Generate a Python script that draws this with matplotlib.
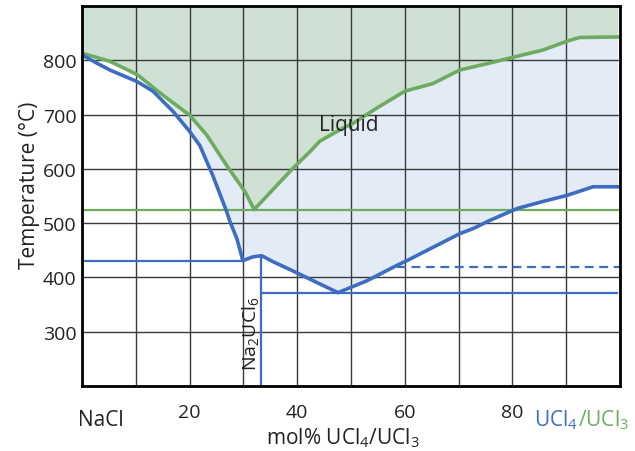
import matplotlib
matplotlib.use('Agg')
import matplotlib.pyplot as plt
import numpy as np

plt.rcParams['font.family'] = ['Open Sans', 'DejaVu Sans']
plt.rcParams['mathtext.fontset'] = 'custom'
plt.rcParams['mathtext.rm'] = 'Open Sans'
plt.rcParams['mathtext.it'] = 'Open Sans:italic'
plt.rcParams['mathtext.bf'] = 'Open Sans:bold'

# liquidus, UCl3 system (green)
green_x = [0, 5.2, 10.2, 15, 20, 23.2, 26.9, 30.3, 32, 39.2, 42.4, 44.2, 48.5, 50.4,
           54.8, 60, 65.2, 70.2, 75.8, 79.5, 85.7, 90.1, 92.5, 99.6]
green_T = [813, 798, 774, 736, 699, 662, 606, 558, 525, 601, 632, 651, 675, 684,
           712, 743, 757, 782, 795, 804, 819, 835, 842, 843]

# liquidus, UCl4 system (blue)
blue_x = [0, 2.7, 5.2, 10.2, 13.2, 16.9, 20, 21.9, 24.3, 26.9, 27.5, 28.8, 29.9,
          31.8, 33.4, 35.5, 39.2, 44.2, 47.6, 53, 58.5, 60.4, 70.3, 72.7, 75.8,
          80.9, 85.7, 90.1, 95, 99.6]
blue_T = [810, 795, 782, 761, 743, 706, 669, 643, 588, 521, 503, 471, 431,
          438, 440, 429, 412, 388, 372, 394, 422, 431, 481, 490, 505,
          527, 540, 551, 567, 567]

eutectic_green = 525
eutectic_blue1 = 430
eutectic_blue2 = 372
transition_blue = 419
compound_x = 33.3
compound_T = 440

GREEN = '#6dab5e'
GREEN_FILL = '#cfe0d4'
BLUE = '#3d6dc2'
BLUE_FILL = '#e3ebf6'

fig = plt.figure(figsize=(6.35, 4.52), dpi=100)
ax = fig.add_axes([82 / 635, 1 - 387 / 452, 538 / 635, 380 / 452])

gx = np.array(green_x)
gT = np.array(green_T)
bx = np.array(blue_x)
bT = np.array(blue_T)

# fills
ax.fill_between(gx, gT, 900, color=GREEN_FILL, lw=0, zorder=1)
gm = gx >= 15
bm = bx >= 16
ax.fill(np.concatenate([bx[bm], gx[gm][::-1]]),
        np.concatenate([bT[bm], gT[gm][::-1]]),
        color=BLUE_FILL, lw=0, zorder=1)

ax.grid(True, color='#3a3a3a', lw=1.0, zorder=2)
ax.set_axisbelow(False)

# horizontal invariants
ax.plot([0, 100], [eutectic_green] * 2, color=GREEN, lw=1.6, zorder=3)
ax.plot([0, 29.9], [eutectic_blue1] * 2, color=BLUE, lw=1.6, zorder=3)
ax.plot([compound_x, 99.5], [eutectic_blue2] * 2, color=BLUE, lw=1.6, zorder=3)
ax.plot([58.5, 100], [transition_blue] * 2, color=BLUE, lw=1.6, ls=(0, (4, 2.5)), zorder=3)
ax.plot([compound_x, compound_x], [200, compound_T], color=BLUE, lw=1.6, zorder=3)

# liquidus curves
ax.plot(gx, gT, color=GREEN, lw=2.6, zorder=4)
ax.plot(bx, bT, color=BLUE, lw=2.6, zorder=4)

ax.set_xlim(0, 100)
ax.set_ylim(200, 900)
ax.set_xticks(np.arange(0, 101, 10))
ax.set_xticklabels(['', '', '20', '', '40', '', '60', '', '80', '', ''])
ax.set_yticks(np.arange(200, 901, 100))
ax.set_yticklabels(['', '300', '400', '500', '600', '700', '800', ''])
ax.tick_params(length=0, labelsize=14, colors='#222222')
ax.tick_params(axis='x', pad=12)
ax.tick_params(axis='y', pad=4)
for side in ['left', 'bottom', 'right', 'top']:
    ax.spines[side].set_linewidth(2.0)
    ax.spines[side].set_color('black')
    ax.spines[side].set_zorder(5)

ax.text(49.6, 682, 'Liquid', fontsize=15, ha='center', va='center', color='#222222', zorder=6)
ax.text(31.3, 298, 'Na$_2$UCl$_6$', fontsize=14, rotation=90, ha='center', va='center',
        color='#222222', zorder=6)

fig.text(30 / 635, 1 - 185 / 452, 'Temperature (°C)', fontsize=15, rotation=90,
         ha='center', va='center', color='#222222')
fig.text(78 / 635, 1 - 421 / 452, 'NaCl', fontsize=15, ha='left', va='center', color='#222222')
fig.text(343 / 635, 1 - 438 / 452, 'mol% UCl$_4$/UCl$_3$', fontsize=15, ha='center',
         va='center', color='#222222')
t1 = fig.text(534 / 635, 1 - 426 / 452, 'UCl$_4$', fontsize=15, ha='left', va='baseline', color=BLUE)
ax.annotate('/UCl$_3$', xy=(1, 0), xycoords=t1, fontsize=15, ha='left', va='bottom',
            color=GREEN, annotation_clip=False)

fig.savefig('out.png', dpi=100)
